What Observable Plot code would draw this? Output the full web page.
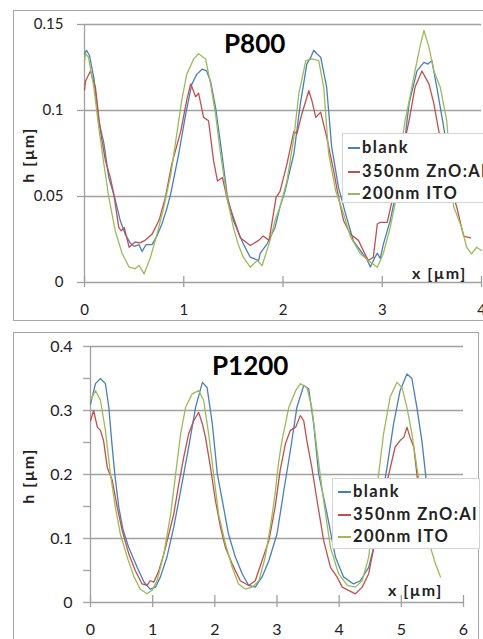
<!DOCTYPE html>
<html><head><meta charset="utf-8">
<script src="https://cdn.jsdelivr.net/npm/d3@7"></script>
<script src="https://cdn.jsdelivr.net/npm/@observablehq/plot@0.6"></script>
<style>
body{margin:0;background:#fff;font-family:Lato,"Open Sans",sans-serif;}
#page{position:relative;width:483px;height:639px;overflow:hidden;background:#fff;}
.panel{position:absolute;border:1.3px solid #a6a6a6;box-sizing:border-box;}
.chart{position:absolute;left:0;}
.title{position:absolute;font-weight:bold;color:#000;line-height:1;white-space:nowrap;}
.lab{position:absolute;font-weight:bold;color:#222;font-size:16px;letter-spacing:1.5px;line-height:1;white-space:nowrap;}
.legend{position:absolute;background:#fff;border:1px solid #d4d4d4;box-sizing:border-box;}
.row{position:absolute;left:0;height:20px;font-size:16.5px;font-weight:bold;letter-spacing:1.4px;color:#222;white-space:nowrap;line-height:20px;}
.row span.sw{position:absolute;top:10px;height:1.6px;}
.row span.tx{position:absolute;top:0;}
</style></head>
<body><div id="page"></div>
<script>
// ---------- data ----------
const seriesNames = ["blank", "350nm ZnO:Al", "200nm ITO"];
const seriesColors = ["#4a7ebb", "#c0504d", "#9bbb59"];

const p800XTicks = [0, 1, 2, 3, 4];
const p800YTicks = [0, 0.05, 0.1, 0.15];
const p800YLabels = ["0", "0.05", "0.1", "0.15"];

const p1200XTicks = [0, 1, 2, 3, 4, 5, 6];
const p1200YTicks = [0, 0.05, 0.1, 0.15, 0.2, 0.25, 0.3, 0.35, 0.4];
const p1200YGrid = [0, 0.1, 0.2, 0.3, 0.4];
const p1200YLabels = ["0", "", "0.1", "", "0.2", "", "0.3", "", "0.4"];

// P800 profiles [x µm, h µm]
const p800Blank = [[0,0.133],[0.02,0.135],[0.05,0.132],[0.094,0.119],[0.144,0.094],[0.195,0.081],[0.245,0.061],[0.31,0.048],[0.36,0.036],[0.41,0.028],[0.46,0.023],[0.5,0.021],[0.55,0.022],[0.58,0.018],[0.62,0.022],[0.68,0.022],[0.73,0.027],[0.78,0.034],[0.83,0.043],[0.87,0.052],[0.95,0.075],[1.02,0.098],[1.08,0.115],[1.13,0.121],[1.185,0.124],[1.23,0.123],[1.27,0.117],[1.32,0.102],[1.37,0.081],[1.44,0.05],[1.5,0.036],[1.55,0.029],[1.6,0.0225],[1.67,0.0147],[1.755,0.0128],[1.77,0.017],[1.84,0.0225],[1.92,0.032],[1.97,0.044],[2.02,0.053],[2.11,0.075],[2.175,0.104],[2.24,0.127],[2.28,0.131],[2.31,0.135],[2.34,0.133],[2.38,0.131],[2.44,0.1135],[2.49,0.079],[2.56,0.055],[2.63,0.04],[2.71,0.024],[2.8,0.017],[2.85,0.013],[2.88,0.009],[2.92,0.014],[2.95,0.017],[2.98,0.014],[3.01,0.022],[3.08,0.036],[3.15,0.055],[3.22,0.079],[3.27,0.104],[3.35,0.123],[3.42,0.128],[3.46,0.127],[3.5,0.129],[3.55,0.1135],[3.62,0.09],[3.7,0.06]];
const p800ZnO = [[0,0.112],[0.01,0.117],[0.06,0.123],[0.11,0.1135],[0.16,0.088],[0.21,0.071],[0.26,0.061],[0.295,0.0515],[0.345,0.032],[0.37,0.03],[0.4,0.032],[0.45,0.0205],[0.51,0.0235],[0.56,0.023],[0.61,0.0245],[0.68,0.028],[0.75,0.036],[0.815,0.0495],[0.88,0.069],[0.97,0.088],[1.03,0.106],[1.07,0.1155],[1.12,0.108],[1.15,0.11],[1.2,0.096],[1.25,0.094],[1.3,0.071],[1.34,0.059],[1.39,0.061],[1.44,0.048],[1.5,0.038],[1.57,0.026],[1.67,0.0215],[1.755,0.0245],[1.8,0.027],[1.86,0.0245],[1.93,0.0495],[1.97,0.053],[2.04,0.069],[2.11,0.088],[2.14,0.0865],[2.19,0.098],[2.26,0.1115],[2.29,0.106],[2.33,0.096],[2.38,0.099],[2.44,0.0845],[2.51,0.065],[2.56,0.0495],[2.61,0.036],[2.68,0.028],[2.76,0.0245],[2.81,0.0185],[2.86,0.0128],[2.91,0.0147],[2.95,0.034],[2.98,0.035],[3.05,0.035],[3.115,0.0515],[3.2,0.075],[3.27,0.094],[3.33,0.1135],[3.4,0.123],[3.47,0.1155],[3.52,0.104],[3.57,0.088],[3.66,0.062],[3.75,0.044],[3.82,0.027],[3.89,0.026]];
const p800ITO = [[0,0.128],[0.01,0.133],[0.04,0.131],[0.094,0.1135],[0.144,0.09],[0.195,0.069],[0.245,0.0495],[0.31,0.03],[0.38,0.0167],[0.45,0.0089],[0.51,0.008],[0.55,0.0099],[0.6,0.005],[0.665,0.0147],[0.73,0.028],[0.8,0.044],[0.87,0.063],[0.93,0.0865],[0.98,0.106],[1.03,0.121],[1.1,0.13],[1.15,0.133],[1.22,0.13],[1.27,0.1155],[1.32,0.098],[1.37,0.075],[1.44,0.048],[1.5,0.032],[1.55,0.022],[1.6,0.0147],[1.67,0.0089],[1.74,0.0128],[1.79,0.0099],[1.87,0.0245],[1.92,0.036],[1.97,0.044],[2.04,0.059],[2.11,0.0845],[2.16,0.11],[2.23,0.129],[2.29,0.13],[2.36,0.129],[2.41,0.1135],[2.46,0.075],[2.53,0.0535],[2.61,0.04],[2.68,0.0265],[2.78,0.0167],[2.86,0.0128],[2.95,0.0089],[3.01,0.0167],[3.08,0.032],[3.15,0.0515],[3.18,0.075],[3.23,0.094],[3.28,0.108],[3.33,0.123],[3.38,0.137],[3.42,0.1465],[3.47,0.137],[3.52,0.123],[3.585,0.1135],[3.65,0.094],[3.69,0.065],[3.72,0.044],[3.8,0.032],[3.85,0.0205],[3.9,0.0167],[3.95,0.0205],[4,0.0186]];

// P1200 profiles [x µm, h µm]
const p1200Blank = [[0,0.31],[0.08,0.342],[0.16,0.35],[0.24,0.342],[0.295,0.305],[0.34,0.253],[0.39,0.201],[0.455,0.149],[0.52,0.115],[0.615,0.086],[0.75,0.055],[0.86,0.032],[0.96,0.021],[1.045,0.024],[1.125,0.04],[1.23,0.071],[1.34,0.118],[1.47,0.185],[1.58,0.243],[1.69,0.305],[1.8,0.344],[1.875,0.336],[1.96,0.279],[2.04,0.201],[2.14,0.149],[2.22,0.107],[2.33,0.071],[2.44,0.045],[2.545,0.0266],[2.65,0.024],[2.76,0.04],[2.87,0.0656],[3,0.107],[3.11,0.175],[3.215,0.2375],[3.32,0.305],[3.43,0.339],[3.51,0.334],[3.59,0.279],[3.67,0.201],[3.805,0.1386],[3.94,0.071],[4.07,0.04],[4.23,0.029],[4.34,0.034],[4.475,0.055],[4.555,0.086],[4.66,0.149],[4.77,0.211],[4.875,0.279],[4.98,0.331],[5.09,0.357],[5.17,0.35],[5.25,0.305],[5.33,0.253],[5.39,0.201],[5.45,0.13]];
const p1200ZnO = [[0,0.284],[0.05,0.3],[0.11,0.274],[0.16,0.269],[0.21,0.253],[0.27,0.211],[0.35,0.191],[0.43,0.149],[0.51,0.1125],[0.615,0.076],[0.72,0.05],[0.83,0.029],[0.91,0.0266],[0.96,0.034],[1.02,0.032],[1.1,0.05],[1.18,0.076],[1.26,0.107],[1.34,0.1386],[1.42,0.185],[1.5,0.227],[1.58,0.264],[1.66,0.284],[1.74,0.297],[1.8,0.279],[1.85,0.258],[1.93,0.211],[2.01,0.159],[2.09,0.118],[2.17,0.086],[2.28,0.06],[2.41,0.034],[2.545,0.0266],[2.65,0.034],[2.76,0.0656],[2.87,0.097],[2.97,0.149],[3.05,0.206],[3.135,0.248],[3.215,0.269],[3.3,0.274],[3.375,0.292],[3.43,0.284],[3.48,0.253],[3.56,0.211],[3.645,0.159],[3.75,0.097],[3.86,0.055],[3.965,0.04],[4.05,0.024],[4.15,0.019],[4.26,0.0136],[4.37,0.024],[4.475,0.045],[4.58,0.097],[4.69,0.159],[4.8,0.201],[4.9,0.243],[4.98,0.253],[5.04,0.258],[5.09,0.274],[5.14,0.258],[5.2,0.243],[5.25,0.201],[5.32,0.14]];
const p1200ITO = [[0,0.316],[0.08,0.331],[0.16,0.316],[0.24,0.269],[0.32,0.201],[0.4,0.149],[0.48,0.107],[0.59,0.071],[0.7,0.04],[0.8,0.021],[0.91,0.0136],[0.99,0.019],[1.07,0.034],[1.18,0.076],[1.29,0.1386],[1.37,0.201],[1.45,0.264],[1.53,0.305],[1.635,0.326],[1.74,0.331],[1.82,0.316],[1.9,0.264],[1.98,0.201],[2.06,0.1386],[2.17,0.092],[2.28,0.055],[2.38,0.029],[2.49,0.021],[2.6,0.024],[2.71,0.034],[2.81,0.071],[2.9,0.122],[2.97,0.17],[3.02,0.215],[3.08,0.253],[3.19,0.305],[3.3,0.331],[3.375,0.342],[3.48,0.336],[3.56,0.305],[3.645,0.2375],[3.75,0.159],[3.86,0.086],[3.99,0.045],[4.13,0.0266],[4.26,0.024],[4.37,0.034],[4.475,0.071],[4.555,0.1386],[4.635,0.201],[4.715,0.264],[4.82,0.321],[4.93,0.344],[5.01,0.336],[5.09,0.305],[5.17,0.264],[5.25,0.211],[5.36,0.15],[5.47,0.086],[5.55,0.06],[5.63,0.04]];

// ---------- build ----------
const page = document.getElementById("page");
const GRID = "#a0a0a0";

function el(tag, cls, css, text) {
  const e = document.createElement(tag);
  if (cls) e.className = cls;
  Object.assign(e.style, css || {});
  if (text != null) e.textContent = text;
  return e;
}

function panel(cfg) {
  page.appendChild(el("div", "panel", cfg.box));
  const labelMap = new Map(cfg.yTicks.map((t, i) => [t, cfg.yLabels[i]]));
  const chart = Plot.plot({
    width: 483, height: cfg.height,
    marginLeft: cfg.ml, marginRight: cfg.mr, marginTop: cfg.mt, marginBottom: cfg.mb,
    x: {domain: cfg.xDomain}, y: {domain: cfg.yDomain},
    style: {fontFamily: "Lato, 'Open Sans', sans-serif", fontSize: cfg.fs, color: "#222", background: "transparent", overflow: "visible"},
    marks: [
      Plot.ruleY(cfg.yGrid, {stroke: GRID, strokeWidth: 1.3}),
      Plot.axisY({ticks: cfg.yTicks, tickSize: 7, tickPadding: cfg.yPad, tickFormat: d => labelMap.get(d), stroke: GRID, strokeWidth: 1.3, fill: "#222", label: null}),
      Plot.ruleX([0], {stroke: GRID, strokeWidth: 1.3}),
      Plot.axisX({ticks: cfg.xTicks, tickSize: cfg.xTick, dy: cfg.xDy, tickPadding: cfg.xPad, tickFormat: d => String(d), stroke: GRID, strokeWidth: 1.3, fill: "#222", label: null}),
      ...cfg.series.map((s, i) => Plot.line(s, {x: d => d[0], y: d => d[1], stroke: seriesColors[i], strokeWidth: 1.3, curve: "linear"}))
    ]
  });
  chart.classList.add("chart");
  chart.style.top = cfg.top + "px";
  page.appendChild(chart);

  page.appendChild(el("div", "title", {left: cfg.titlePos[0] + "px", top: cfg.titlePos[1] + "px", fontSize: cfg.titleSize + "px"}, cfg.title));
  page.appendChild(el("div", "lab", {left: cfg.xLab[0] + "px", top: cfg.xLab[1] + "px"}, "x [µm]"));
  const h = el("div", "lab", {left: cfg.yLab[0] + "px", top: cfg.yLab[1] + "px", transform: "translate(-50%,-50%) rotate(-90deg)"}, "h [µm]");
  page.appendChild(h);

  const lg = el("div", "legend", cfg.legend);
  seriesNames.forEach((n, i) => {
    const r = el("div", "row", {top: (cfg.rows[i] - 10) + "px", width: "100%"});
    r.appendChild(el("span", "sw", {left: cfg.sw[0] + "px", width: (cfg.sw[1] - cfg.sw[0]) + "px", background: seriesColors[i]}));
    r.appendChild(el("span", "tx", {left: cfg.txLeft + "px"}, n));
    lg.appendChild(r);
  });
  page.appendChild(lg);
}

panel({
  box: {left: "13px", top: "10px", width: "490px", height: "311px"},
  top: 0, height: 322, ml: 84, mr: 2, mt: 24, mb: 40,
  xDomain: [0, 4], yDomain: [0, 0.15], fs: "15px",
  xTicks: p800XTicks, yTicks: p800YTicks, yLabels: p800YLabels, yGrid: p800YTicks,
  yPad: 14, xTick: 11, xDy: -6, xPad: 17,
  series: [p800Blank, p800ZnO, p800ITO],
  title: "P800", titlePos: [224, 30], titleSize: 26,
  xLab: [412, 265], yLab: [28, 155],
  legend: {left: "342px", top: "133px", width: "160px", height: "70px"},
  rows: [13, 37, 59], sw: [5, 17], txLeft: 19
});

panel({
  box: {left: "13px", top: "332px", width: "466px", height: "330px"},
  top: 325, height: 314, ml: 90, mr: 20, mt: 21, mb: 37,
  xDomain: [0, 6], yDomain: [0, 0.4], fs: "16px",
  xTicks: p1200XTicks, yTicks: p1200YTicks, yLabels: p1200YLabels, yGrid: p1200YGrid,
  yPad: 11, xTick: 12, xDy: -7, xPad: 16,
  series: [p1200Blank, p1200ZnO, p1200ITO],
  title: "P1200", titlePos: [212, 352], titleSize: 26,
  xLab: [388, 582], yLab: [28, 476],
  legend: {left: "332px", top: "478px", width: "148px", height: "71px"},
  rows: [12, 35, 57], sw: [5, 18], txLeft: 20
});
</script>
</body></html>
